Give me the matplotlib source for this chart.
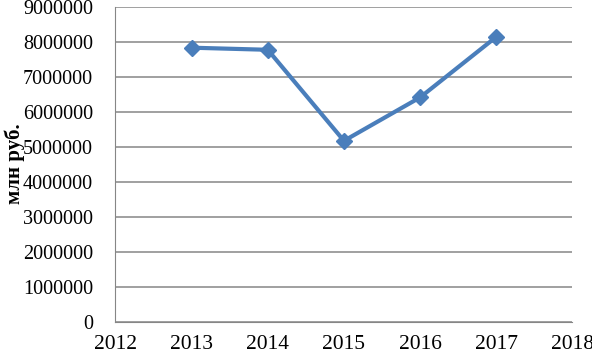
import matplotlib.pyplot as plt
import numpy as np

years = [2013, 2014, 2015, 2016, 2017]
values = [7850000, 7790000, 5190000, 6430000, 8160000]
y_ticks = list(range(0, 9000001, 1000000))
x_ticks = list(range(2012, 2019))

plt.rcParams['font.family'] = ['Liberation Serif', 'DejaVu Serif']

fig = plt.figure(figsize=(5.92, 3.54), dpi=100)
ax = fig.add_axes([0.195, 0.089, 0.772, 0.890])

ax.plot(years, values, color='#4A7EBB', linewidth=3, marker='D',
        markersize=8, markerfacecolor='#4A7EBB', markeredgecolor='#4A7EBB',
        zorder=3)

ax.set_xlim(2012, 2018)
ax.set_ylim(0, 9000000)
ax.set_xticks(x_ticks)
ax.set_yticks(y_ticks)
ax.set_yticklabels([str(v) for v in y_ticks])
ax.grid(axis='y', color='#868686', linewidth=1.1)
ax.set_axisbelow(True)

for s in ['top', 'right']:
    ax.spines[s].set_visible(False)
ax.spines['left'].set_color('#868686')
ax.spines['bottom'].set_color('#868686')
ax.tick_params(axis='x', labelsize=15.5, colors='black', length=0, pad=9)
ax.tick_params(axis='y', labelsize=14.5, colors='black', length=0, pad=16)

ax.set_ylabel('млн руб.', fontsize=15, fontweight='bold')
ax.yaxis.set_label_coords(-0.198, 0.505)

fig.savefig('out.png', dpi=100)
